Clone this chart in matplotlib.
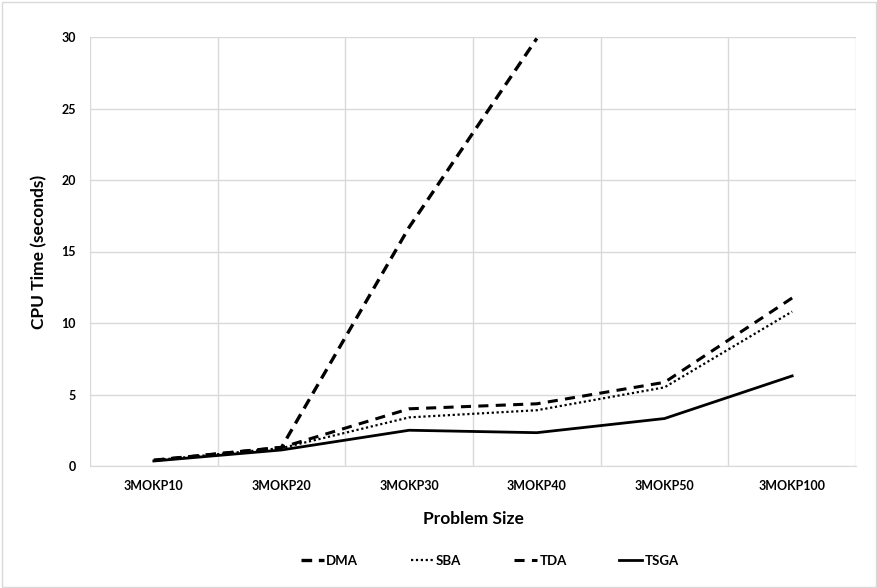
import numpy as np
import matplotlib
matplotlib.use("Agg")
import matplotlib.pyplot as plt
from matplotlib.patches import Rectangle

categories = ["3MOKP10", "3MOKP20", "3MOKP30", "3MOKP40", "3MOKP50", "3MOKP100"]
dma = [0.4, 1.3, 16.7, 29.9, np.nan, np.nan]
sba = [0.4, 1.25, 3.4, 3.9, 5.5, 10.8]
tda = [0.4, 1.3, 4.0, 4.35, 5.85, 11.75]
tsga = [0.35, 1.12, 2.5, 2.33, 3.32, 6.3]
yticks = [0, 5, 10, 15, 20, 25, 30]

plt.rcParams['font.family'] = ['Lato', 'DejaVu Sans']
fig = plt.figure(figsize=(8.78, 5.88), dpi=100)
ax = fig.add_axes([90/878, 1-466/588, 766/878, 429/588])

x = np.arange(len(categories))
ax.plot(x, dma, color='black', lw=2.4, dashes=(3.2, 2.0), label='DMA', clip_on=True)
ax.plot(x, sba, color='black', lw=1.6, dashes=(1, 1.2), label='SBA')
ax.plot(x, tda, color='black', lw=2.2, dashes=(3.3, 2.4), label='TDA')
ax.plot(x, tsga, color='black', lw=2.0, label='TSGA')

ax.set_xlim(-0.5, len(categories) - 0.5)
ax.set_ylim(0, 30)
ax.set_yticks(yticks)
ax.set_yticklabels([str(v) for v in yticks], fontsize=9, fontweight='bold')
ax.set_xticks(x)
ax.set_xticklabels(categories, fontsize=9, fontweight='bold')
ax.set_xticks(np.arange(-0.5, len(categories)), minor=True)
ax.tick_params(axis='both', length=0, pad=10)
ax.tick_params(axis='x', which='minor', length=0)
ax.grid(axis='y', color='#d9d9d9', lw=1)
ax.grid(axis='x', which='minor', color='#d9d9d9', lw=1)
ax.grid(axis='x', which='major', visible=False)
for s in ['top', 'right', 'left']:
    ax.spines[s].set_visible(False)
ax.spines['bottom'].set_color('#d9d9d9')
ax.set_axisbelow(True)

ax.set_xlabel('Problem Size', fontsize=12.5, fontweight='bold', labelpad=14)
ax.set_ylabel('CPU Time (seconds)', fontsize=12.5, fontweight='bold', labelpad=10)

leg = fig.legend(loc='center', bbox_to_anchor=(490/878, 1-561/588), ncol=4, frameon=False,
                 prop={'weight': 'bold', 'size': 9.5}, handlelength=1.7, handletextpad=0.2,
                 columnspacing=4.0)

fig.patches.append(Rectangle((0.002, 0.002), 0.996, 0.994, transform=fig.transFigure,
                             fill=False, edgecolor='#d9d9d9', lw=1))
fig.savefig('out.png', dpi=100)
